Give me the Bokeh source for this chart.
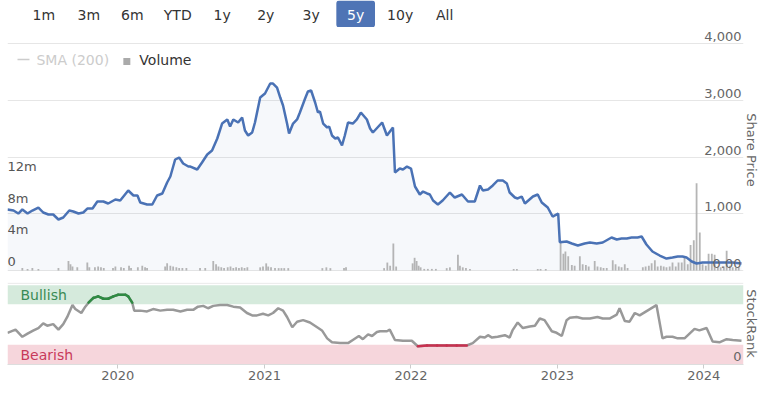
import pandas as pd
from bokeh.plotting import figure
from bokeh.models import Range1d, LinearAxis, FixedTicker, BoxAnnotation, Span, DatetimeTickFormatter
from bokeh.layouts import column
from bokeh.embed import file_html
from bokeh.resources import INLINE
from bokeh.core.properties import value

FONT = "DejaVu Sans"

# ---------------- data ----------------
price_dates = [
    "2019-04-01", "2019-04-16", "2019-04-28", "2019-05-08", "2019-05-21", "2019-06-02", "2019-06-17",
    "2019-06-29", "2019-07-12", "2019-07-24", "2019-08-06", "2019-08-18", "2019-09-02", "2019-09-12",
    "2019-09-25", "2019-10-07", "2019-10-17", "2019-10-30", "2019-11-11", "2019-11-26", "2019-12-08",
    "2019-12-26", "2020-01-07", "2020-01-27", "2020-02-09", "2020-02-19", "2020-02-26", "2020-03-14",
    "2020-03-27", "2020-04-08", "2020-04-21", "2020-05-03", "2020-05-11", "2020-05-23", "2020-06-02",
    "2020-06-12", "2020-06-25", "2020-06-30", "2020-07-17", "2020-07-29", "2020-08-11", "2020-08-23",
    "2020-09-05", "2020-09-17", "2020-09-30", "2020-10-07", "2020-10-15", "2020-10-27", "2020-11-06",
    "2020-11-13", "2020-11-21", "2020-12-01", "2020-12-08", "2020-12-21", "2021-01-02", "2021-01-15",
    "2021-01-22", "2021-02-01", "2021-02-09", "2021-02-16", "2021-02-26", "2021-03-03", "2021-03-13",
    "2021-03-23", "2021-03-30", "2021-04-12", "2021-04-19", "2021-04-27", "2021-05-07", "2021-05-14",
    "2021-05-19", "2021-05-27", "2021-06-06", "2021-06-11", "2021-06-18", "2021-06-26", "2021-07-03",
    "2021-07-13", "2021-07-20", "2021-07-28", "2021-08-09", "2021-08-19", "2021-08-29", "2021-09-13",
    "2021-09-21", "2021-09-28", "2021-10-21", "2021-11-02", "2021-11-17", "2021-11-22", "2021-12-04",
    "2021-12-12", "2021-12-22", "2022-01-01", "2022-01-11", "2022-01-23", "2022-01-31", "2022-02-10",
    "2022-02-17", "2022-02-25", "2022-03-09", "2022-03-21", "2022-04-08", "2022-04-20", "2022-05-08",
    "2022-05-23", "2022-06-09", "2022-06-22", "2022-06-29", "2022-07-12", "2022-07-24", "2022-08-05",
    "2022-08-18", "2022-08-28", "2022-09-04", "2022-09-17", "2022-09-24", "2022-10-04", "2022-10-12",
    "2022-11-01", "2022-11-13", "2022-11-23", "2022-12-08", "2022-12-20", "2023-01-03", "2023-01-07",
    "2023-01-24", "2023-02-06", "2023-02-21", "2023-03-10", "2023-03-23", "2023-04-09", "2023-04-24",
    "2023-05-16", "2023-05-29", "2023-06-10", "2023-06-23", "2023-07-05", "2023-07-20", "2023-07-30",
    "2023-08-11", "2023-08-26", "2023-09-13", "2023-09-30", "2023-10-15", "2023-10-28", "2023-11-09",
    "2023-11-19", "2023-12-02", "2023-12-14", "2023-12-29", "2024-01-23", "2024-02-17", "2024-03-13",
    "2024-04-04",
]
price_vals = [
    1075, 1057, 1004, 1075, 1004, 1057, 1110,
    1022, 987, 987, 899, 934, 1057, 1040,
    1004, 1022, 1092, 1092, 1216, 1216, 1181,
    1251, 1233, 1410, 1322, 1322, 1198, 1163,
    1163, 1322, 1357, 1551, 1656, 1956, 1991,
    1885, 1832, 1832, 1780, 1903, 2044, 2114,
    2326, 2590, 2661, 2537, 2661, 2608, 2696,
    2467, 2379, 2432, 2608, 3048, 3119, 3295,
    3295, 3224, 3048, 2907, 2590, 2414, 2590,
    2661, 2784, 3031, 3154, 3172, 2960, 2784,
    2802, 2590, 2520, 2537, 2379, 2326, 2343,
    2203, 2379, 2608, 2590, 2661, 2784, 2661,
    2502, 2432, 2608, 2379, 2520, 1727, 1797,
    1780, 1832, 1797, 1480, 1339, 1392, 1357,
    1339, 1233, 1163, 1233, 1374, 1286, 1339,
    1216, 1216, 1498, 1410, 1427, 1498, 1586,
    1586, 1533, 1374, 1286, 1269, 1304, 1181,
    1304, 1339, 1198, 1110, 951, 1004, 498,
    511, 476, 441, 476, 493, 476, 493,
    581, 546, 564, 564, 581, 581, 599,
    458, 335, 264, 211, 229, 247, 247,
    229, 159, 123, 141, 141, 141, 141,
    123,
]

vol_dates = [
    "2019-05-08", "2019-05-21", "2019-06-02", "2019-06-17", "2019-08-06", "2019-08-31", "2019-09-05",
    "2019-09-10", "2019-09-22", "2019-10-17", "2019-10-22", "2019-11-05", "2019-11-13", "2019-11-20",
    "2019-11-27", "2019-12-20", "2019-12-26", "2020-01-09", "2020-01-16", "2020-01-29", "2020-02-03",
    "2020-02-20", "2020-03-02", "2020-03-09", "2020-03-14", "2020-04-28", "2020-05-03", "2020-05-11",
    "2020-05-18", "2020-05-26", "2020-06-02", "2020-06-10", "2020-06-20", "2020-07-24", "2020-08-06",
    "2020-08-26", "2020-09-02", "2020-09-08", "2020-09-15", "2020-09-22", "2020-10-01", "2020-10-08",
    "2020-10-15", "2020-10-22", "2020-10-29", "2020-11-05", "2020-11-12", "2020-11-19", "2020-12-21",
    "2020-12-28", "2021-01-05", "2021-01-10", "2021-01-17", "2021-01-27", "2021-02-05", "2021-02-12",
    "2021-02-19", "2021-03-01", "2021-05-25", "2021-06-04", "2021-06-14", "2021-07-18", "2021-07-23",
    "2021-10-26", "2021-11-03", "2021-11-10", "2021-11-18", "2021-11-25", "2022-01-05", "2022-01-10",
    "2022-01-15", "2022-01-20", "2022-01-25", "2022-02-03", "2022-02-12", "2022-02-22", "2022-03-04",
    "2022-03-31", "2022-04-08", "2022-04-28", "2022-05-03", "2022-05-10", "2022-05-18", "2022-05-28",
    "2022-09-14", "2022-09-22", "2022-11-13", "2022-11-20", "2022-12-03", "2023-01-09", "2023-01-16",
    "2023-01-21", "2023-01-28", "2023-02-06", "2023-02-13", "2023-02-26", "2023-03-05", "2023-03-13",
    "2023-03-20", "2023-04-04", "2023-04-11", "2023-04-19", "2023-04-26", "2023-05-04", "2023-05-19",
    "2023-05-26", "2023-06-03", "2023-06-10", "2023-06-18", "2023-06-25", "2023-08-02", "2023-08-09",
    "2023-08-17", "2023-08-24", "2023-09-01", "2023-09-08", "2023-09-16", "2023-09-23", "2023-09-30",
    "2023-10-08", "2023-10-15", "2023-10-23", "2023-10-30", "2023-11-07", "2023-11-14", "2023-11-22",
    "2023-11-29", "2023-12-07", "2023-12-14", "2023-12-22", "2023-12-29", "2024-01-06", "2024-01-13",
    "2024-01-21", "2024-01-28", "2024-02-05", "2024-02-12", "2024-02-20", "2024-02-27", "2024-03-06",
    "2024-03-13", "2024-03-21", "2024-03-28",
]
vol_m = [
    0.3, 0.2, 0.3, 0.2, 0.3, 1.2, 0.8,
    0.5, 0.4, 1.0, 0.4, 0.4, 0.5, 0.4,
    0.3, 0.3, 0.5, 0.4, 0.3, 0.6, 0.3,
    0.4, 0.6, 0.4, 0.3, 0.5, 0.9, 0.6,
    0.5, 0.4, 0.3, 0.3, 0.3, 0.3, 0.3,
    1.2, 0.8, 0.5, 0.4, 0.3, 0.4, 0.5,
    0.3, 0.4, 0.3, 0.4, 0.3, 0.4, 0.4,
    0.5, 0.9, 0.5, 0.4, 0.3, 0.3, 0.3,
    0.3, 0.3, 0.3, 0.4, 0.3, 0.3, 0.4,
    0.3, 1.0, 0.6, 3.4, 0.5, 0.9, 1.6,
    1.2, 0.6, 0.4, 0.2, 0.2, 0.2, 0.2,
    0.3, 0.4, 2.0, 0.6, 0.4, 0.3, 0.2,
    0.2, 0.2, 0.2, 0.2, 0.2, 3.6, 2.1,
    2.4, 1.8, 0.7, 0.6, 1.8, 0.8, 0.7,
    0.5, 1.2, 0.5, 0.4, 0.3, 0.3, 1.3,
    0.8, 0.5, 0.4, 0.8, 0.3, 0.4, 0.5,
    0.6, 0.9, 1.3, 0.5, 0.6, 0.5, 0.4,
    0.5, 1.0, 0.5, 1.0, 1.0, 1.8, 0.8,
    3.2, 3.8, 11.0, 4.8, 0.8, 0.6, 2.1,
    2.1, 2.0, 0.5, 0.4, 0.5, 2.5, 0.6,
    0.4, 0.4, 0.5,
]

rank_dates = [
    "2019-04-01", "2019-04-21", "2019-05-08", "2019-05-21", "2019-06-05", "2019-06-17", "2019-06-29",
    "2019-07-09", "2019-07-24", "2019-08-06", "2019-08-18", "2019-08-28", "2019-09-10", "2019-09-17",
    "2019-10-02", "2019-10-12", "2019-10-20", "2019-11-01", "2019-11-13", "2019-11-26", "2019-12-08",
    "2019-12-21", "2020-01-02", "2020-01-20", "2020-01-27", "2020-02-06", "2020-02-11", "2020-02-26",
    "2020-03-14", "2020-03-29", "2020-04-16", "2020-05-03", "2020-05-18", "2020-06-05", "2020-06-22",
    "2020-07-07", "2020-07-19", "2020-08-01", "2020-08-13", "2020-08-26", "2020-09-12", "2020-09-30",
    "2020-10-15", "2020-11-01", "2020-11-18", "2020-12-01", "2020-12-13", "2020-12-28", "2021-01-10",
    "2021-01-22", "2021-02-04", "2021-02-16", "2021-02-26", "2021-03-11", "2021-03-23", "2021-04-07",
    "2021-04-24", "2021-05-12", "2021-05-24", "2021-06-06", "2021-06-18", "2021-07-08", "2021-07-28",
    "2021-08-09", "2021-08-24", "2021-09-03", "2021-09-16", "2021-09-26", "2021-10-08", "2021-10-16",
    "2021-11-02", "2021-11-09", "2021-11-22", "2021-12-12", "2022-01-03", "2022-01-18", "2022-02-10",
    "2022-03-07", "2022-03-31", "2022-04-25", "2022-05-20", "2022-06-04", "2022-06-22", "2022-07-04",
    "2022-07-12", "2022-07-22", "2022-08-05", "2022-08-23", "2022-09-04", "2022-09-11", "2022-09-24",
    "2022-10-07", "2022-10-24", "2022-11-06", "2022-11-18", "2022-11-30", "2022-12-18", "2022-12-30",
    "2023-01-12", "2023-01-24", "2023-02-01", "2023-02-18", "2023-03-05", "2023-03-23", "2023-04-11",
    "2023-04-24", "2023-05-11", "2023-05-29", "2023-06-05", "2023-06-18", "2023-06-30", "2023-07-13",
    "2023-07-25", "2023-09-05", "2023-09-20", "2023-09-30", "2023-10-15", "2023-10-28", "2023-11-14",
    "2023-12-09", "2023-12-21", "2024-01-08", "2024-01-23", "2024-02-09", "2024-02-27", "2024-03-13",
    "2024-04-04",
]
rank_vals = [
    40, 44, 35, 39, 43, 46, 52,
    49, 51, 44, 51, 60, 75, 70,
    65, 73, 78, 84, 86, 83, 83,
    86, 88, 88, 86, 78, 68, 68,
    67, 70, 68, 69, 69, 67, 69,
    69, 73, 74, 71, 74, 75, 75,
    73, 72, 65, 62, 62, 64, 62,
    65, 71, 68, 60, 47, 54, 56,
    53, 47, 43, 33, 28, 27, 27,
    31, 36, 32, 38, 36, 41, 42,
    42, 44, 31, 30, 30, 23, 24,
    24, 24, 24, 24, 27, 35, 34,
    37, 34, 35, 37, 34, 43, 53,
    46, 48, 49, 58, 56, 42, 40,
    36, 56, 59, 60, 58, 58, 60,
    58, 58, 63, 71, 55, 54, 65,
    62, 75, 33, 35, 35, 33, 33,
    45, 43, 46, 29, 28, 32, 31,
    30,
]

x_start, x_end = "2019-04-01", "2024-04-09"
year_ticks = ["2020-01-01", "2021-01-01", "2022-01-01", "2023-01-01", "2024-01-01"]
price_ticks = [0, 1000, 2000, 3000, 4000]
price_tick_labels = ["0.00", "1,000", "2,000", "3,000", "4,000"]
vol_ticks = [0, 4, 8, 12]
vol_tick_labels = ["0", "4m", "8m", "12m"]
buttons = ["1m", "3m", "6m", "YTD", "1y", "2y", "3y", "5y", "10y", "All"]
selected_button = "5y"
bull_band = [76, 100]
bear_band = [0, 25]

# ---------------- layout (pixel positions) ----------------
button_x = [37.5, 84, 129, 176, 222, 267, 314, 360, 406, 452]
W = 761
LINE_BLUE = "#4a72b5"
GRID = "#e6e6e6"
LABEL = "#666666"

price_dt = pd.to_datetime(price_dates)
vol_dt = pd.to_datetime(vol_dates)
rank_dt = pd.to_datetime(rank_dates)
xr = Range1d(start=pd.Timestamp(x_start), end=pd.Timestamp(x_end))


def side_title(text):
    return LinearAxis(axis_label=text, ticker=FixedTicker(ticks=[]),
                      axis_line_color=None, major_tick_line_color=None, minor_tick_line_color=None,
                      major_tick_out=0, minor_tick_out=0, major_label_text_font_size="0px",
                      axis_label_text_font=FONT, axis_label_text_font_size="13px",
                      axis_label_text_font_style="normal", axis_label_text_color=LABEL,
                      axis_label_standoff=0)


# ---------------- header (range buttons) ----------------
p0 = figure(width=W, height=27, x_range=Range1d(0, W), y_range=Range1d(27, 0),
            toolbar_location=None, output_backend="svg", min_border=0,
            x_axis_location=None, y_axis_location=None, outline_line_color=None)
p0.xgrid.visible = False
p0.ygrid.visible = False
sel = buttons.index(selected_button)
p0.add_layout(BoxAnnotation(left=button_x[sel] - 20, right=button_x[sel] + 20, top=0, bottom=27,
                            fill_color="#4f74b5", fill_alpha=1.0, line_color=None,
                            border_radius=3, level="underlay"))
p0.text(x=button_x, y=[14] * len(buttons), text=buttons,
        text_color=["#ffffff" if b == selected_button else "#333333" for b in buttons],
        text_align="center", text_baseline="middle",
        text_font=value(FONT), text_font_size="14px")

# ---------------- price / volume panel ----------------
p1 = figure(width=W, height=245, x_range=xr, y_range=Range1d(-35.2, 4281.9),
            x_axis_type="datetime", x_axis_location=None, y_axis_location=None,
            toolbar_location=None, output_backend="svg",
            min_border_left=7, min_border_right=17, min_border_top=0, min_border_bottom=0,
            outline_line_color=None)
p1.extra_y_ranges = {"vol": Range1d(-0.252, 30.64), "px": Range1d(272, 27)}
p1.extra_x_ranges = {"px": Range1d(7, 744)}
p1.xgrid.visible = False
p1.ygrid.ticker = FixedTicker(ticks=price_ticks)
p1.ygrid.grid_line_color = GRID

p1.varea(x=price_dt, y1=0, y2=price_vals, fill_color=LINE_BLUE, fill_alpha=0.05)
p1.vbar(x=vol_dt, top=vol_m, bottom=0, width=4.5 * 86400000, y_range_name="vol",
        fill_color="#a8a8a8", line_color=None, fill_alpha=0.85)
p1.line(x=price_dt, y=price_vals, line_color=LINE_BLUE, line_width=2.5)

p1.text(x=[742] * len(price_ticks), y=price_ticks, text=price_tick_labels, x_range_name="px",
        text_align="right", text_baseline="middle", y_offset=-7,
        text_color=LABEL, text_font=value(FONT), text_font_size="13px")
p1.text(x=[7] * len(vol_ticks), y=vol_ticks, text=vol_tick_labels, x_range_name="px",
        y_range_name="vol", text_align="left", text_baseline="middle", y_offset=-9,
        text_color="#555555", text_font=value(FONT), text_font_size="13px")

# legend
p1.segment(x0=[17], y0=[59], x1=[29], y1=[59], x_range_name="px", y_range_name="px",
           line_color="#cccccc", line_width=1.5)
p1.text(x=[36], y=[59], text=["SMA (200)"], x_range_name="px", y_range_name="px",
        text_align="left", text_baseline="middle", text_color="#cccccc",
        text_font=value(FONT), text_font_size="14px")
p1.rect(x=[126.5], y=[61], width=7, height=7, x_range_name="px", y_range_name="px",
        fill_color="#aaaaaa", line_color=None)
p1.text(x=[139], y=[59], text=["Volume"], x_range_name="px", y_range_name="px",
        text_align="left", text_baseline="middle", text_color="#333333",
        text_font=value(FONT), text_font_size="14px")

p1.add_layout(side_title("Share Price"), "right")

# ---------------- StockRank panel ----------------
p2 = figure(width=W, height=113, x_range=xr, y_range=Range1d(0, 103.5),
            x_axis_type="datetime", x_axis_location="below", y_axis_location=None,
            toolbar_location=None, output_backend="svg",
            min_border_left=7, min_border_right=17, min_border_top=10, min_border_bottom=21,
            outline_line_color=None)
p2.extra_x_ranges = {"px": Range1d(7, 744)}
p2.xgrid.visible = False
p2.ygrid.visible = False

p2.add_layout(BoxAnnotation(bottom=bull_band[0], top=bull_band[1], fill_color="#d5eadc",
                            fill_alpha=1.0, line_color=None, level="underlay"))
p2.add_layout(BoxAnnotation(bottom=bear_band[0], top=bear_band[1], fill_color="#f6d6dc",
                            fill_alpha=1.0, line_color=None, level="underlay"))
p2.add_layout(Span(location=102.6, dimension="width", line_color=GRID, line_width=1))

p2.line(x=rank_dt, y=rank_vals, line_color="#999999", line_width=2.5)
gx0, gy0, gx1, gy1, rx0, ry0, rx1, ry1 = [], [], [], [], [], [], [], []
for i in range(len(rank_vals) - 1):
    a, b = rank_vals[i], rank_vals[i + 1]
    if a >= bull_band[0] and b >= bull_band[0]:
        gx0.append(rank_dt[i]); gy0.append(a); gx1.append(rank_dt[i + 1]); gy1.append(b)
    if a <= bear_band[1] and b <= bear_band[1]:
        rx0.append(rank_dt[i]); ry0.append(a); rx1.append(rank_dt[i + 1]); ry1.append(b)
p2.segment(x0=gx0, y0=gy0, x1=gx1, y1=gy1, line_color="#2f8a43", line_width=2.5, line_cap="round")
p2.segment(x0=rx0, y0=ry0, x1=rx1, y1=ry1, line_color="#c8304f", line_width=2.5, line_cap="round")

p2.text(x=[20], y=[sum(bull_band) / 2], text=["Bullish"], x_range_name="px",
        text_align="left", text_baseline="middle", text_color="#3a8a55",
        text_font=value(FONT), text_font_size="14px")
p2.text(x=[20], y=[sum(bear_band) / 2], text=["Bearish"], x_range_name="px",
        text_align="left", text_baseline="middle", text_color="#c83a5a",
        text_font=value(FONT), text_font_size="14px")
p2.text(x=[742], y=[0], text=["0"], x_range_name="px", text_align="right",
        text_baseline="middle", y_offset=-8, text_color=LABEL,
        text_font=value(FONT), text_font_size="13px")

xa = p2.xaxis[0]
xa.ticker = FixedTicker(ticks=[pd.Timestamp(t).value // 10**6 for t in year_ticks])
xa.formatter = DatetimeTickFormatter(years="%Y", months="%Y", days="%Y", hours="%Y",
                                     minutes="%Y", seconds="%Y", milliseconds="%Y",
                                     microseconds="%Y", minsec="%Y", hourmin="%Y")
xa.axis_line_color = "#dddddd"
xa.major_tick_line_color = "#cccccc"
xa.minor_tick_line_color = None
xa.major_tick_out = 4
xa.major_tick_in = 0
xa.major_label_standoff = 2
xa.major_label_text_font = FONT
xa.major_label_text_font_size = "13px"
xa.major_label_text_color = LABEL

p2.add_layout(side_title("StockRank"), "right")

layout = column(p0, p1, p2, spacing=0)
open("out.html", "w").write(file_html(layout, INLINE))
